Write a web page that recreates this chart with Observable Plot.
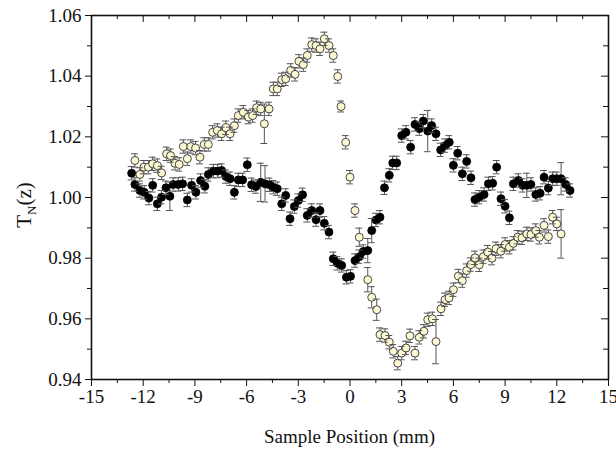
<!DOCTYPE html>
<html><head><meta charset="utf-8">
<script src="https://cdn.jsdelivr.net/npm/d3@7"></script>
<script src="https://cdn.jsdelivr.net/npm/@observablehq/plot@0.6"></script>
<style>html,body{margin:0;padding:0;background:#fff}#chart svg{display:block}</style>
</head><body><div id="chart"></div>
<script>
// ---- data ----
const whiteX = [
 -12.48,-12.19,-11.96,-11.70,-11.45,-11.18,-10.93,-10.64,-10.41,-10.16,
 -9.91,-9.67,-9.44,-9.23,-8.96,-8.71,-8.46,-8.22,-7.97,-7.70,
 -7.45,-7.20,-6.96,-6.71,-6.48,-6.19,-5.90,-5.65,-5.42,-5.18,
 -4.97,-4.70,-4.45,-4.22,-3.96,-3.73,-3.44,-3.19,-2.96,-2.71,
 -2.48,-2.22,-1.97,-1.74,-1.49,-1.22,-0.97,-0.71,-0.52,-0.25,
 0.00,0.29,0.54,1.03,1.26,1.55,1.74,2.03,2.28,2.51,
 2.77,3.00,3.25,3.48,3.77,4.02,4.29,4.51,4.78,4.99,
 5.28,5.51,5.75,6.00,6.29,6.52,6.77,7.01,7.25,7.50,
 7.74,7.99,8.24,8.47,8.75,9.00,9.25,9.48,9.73,9.98,
 10.26,10.50,10.78,10.99,11.26,11.51,11.76,12.00,12.25];
const whiteY = [
 1.0122,1.0076,1.0100,1.0100,1.0111,1.0105,1.0081,1.0144,1.0138,1.0113,
 1.0109,1.0168,1.0128,1.0168,1.0163,1.0133,1.0175,1.0175,1.0215,1.0221,
 1.0210,1.0230,1.0210,1.0237,1.0270,1.0281,1.0265,1.0270,1.0296,1.0292,
 1.0243,1.0292,1.0358,1.0358,1.0388,1.0391,1.0419,1.0406,1.0449,1.0438,
 1.0468,1.0504,1.0501,1.0490,1.0523,1.0501,1.0468,1.0399,1.0300,1.0182,
 1.0067,0.9957,0.9869,0.9729,0.9671,0.9630,0.9548,0.9545,0.9523,0.9493,
 0.9454,0.9487,0.9504,0.9544,0.9487,0.9539,0.9559,0.9597,0.9600,0.9525,
 0.9633,0.9663,0.9669,0.9696,0.9741,0.9726,0.9759,0.9779,0.9801,0.9778,
 0.9805,0.9820,0.9800,0.9831,0.9823,0.9845,0.9836,0.9849,0.9869,0.9867,
 0.9880,0.9878,0.9891,0.9869,0.9908,0.9871,0.9935,0.9913,0.9880];
const whiteErr = [
 0.0022,0.0022,0.0022,0.0022,0.0022,0.0022,0.0022,0.0022,0.0022,0.0022,
 0.0022,0.0022,0.0022,0.0022,0.0022,0.0022,0.0022,0.0022,0.0022,0.0022,
 0.0022,0.0022,0.0022,0.0022,0.0022,0.0022,0.0022,0.0022,0.0022,0.0022,
 0.0065,0.0022,0.0022,0.0022,0.0022,0.0022,0.0022,0.0022,0.0022,0.0022,
 0.0022,0.0022,0.0022,0.0022,0.0022,0.0022,0.0022,0.0022,0.0018,0.0022,
 0.0022,0.0022,0.0030,0.0040,0.0035,0.0035,0.0022,0.0022,0.0022,0.0022,
 0.0022,0.0022,0.0022,0.0022,0.0022,0.0022,0.0022,0.0022,0.0022,0.0073,
 0.0022,0.0022,0.0022,0.0022,0.0022,0.0022,0.0022,0.0022,0.0022,0.0022,
 0.0022,0.0022,0.0022,0.0022,0.0022,0.0022,0.0022,0.0022,0.0022,0.0022,
 0.0022,0.0022,0.0022,0.0022,0.0022,0.0022,0.0022,0.0022,0.0080];

const blackX = [
 -12.67,-12.48,-12.19,-11.94,-11.67,-11.45,-11.18,-10.93,-10.68,-10.45,
 -10.26,-9.97,-9.71,-9.44,-9.19,-8.94,-8.67,-8.42,-8.22,-7.93,
 -7.68,-7.45,-7.20,-6.96,-6.71,-6.48,-6.23,-5.96,-5.71,-5.46,
 -5.18,-4.93,-4.68,-4.45,-4.22,-3.96,-3.73,-3.48,-3.23,-3.00,
 -2.75,-2.48,-2.22,-1.97,-1.74,-1.49,-1.22,-0.97,-0.73,-0.48,
 -0.21,0.03,0.29,0.54,0.77,1.03,1.26,1.51,1.74,2.00,
 2.28,2.48,2.71,3.00,3.25,3.52,3.77,4.02,4.25,4.51,
 4.74,4.99,5.26,5.51,5.76,6.00,6.25,6.52,6.77,7.02,
 7.25,7.50,7.78,8.03,8.28,8.51,8.76,9.00,9.25,9.48,
 9.77,10.02,10.26,10.50,10.78,11.03,11.26,11.51,11.76,12.00,
 12.25,12.52,12.77];
const blackY = [
 1.0080,1.0043,1.0023,1.0017,0.9998,1.0040,0.9979,1.0001,1.0032,1.0004,
 1.0043,1.0043,1.0045,0.9992,1.0040,1.0017,1.0056,1.0037,1.0076,1.0087,
 1.0087,1.0089,1.0069,1.0062,1.0017,1.0058,1.0058,1.0108,1.0042,1.0036,
 1.0050,1.0045,1.0042,1.0034,1.0029,0.9979,1.0007,0.9930,0.9970,0.9990,
 1.0009,0.9941,0.9957,0.9927,0.9957,0.9915,0.9886,0.9798,0.9783,0.9776,
 0.9737,0.9740,0.9792,0.9805,0.9822,0.9825,0.9891,0.9926,0.9935,1.0032,
 1.0073,1.0114,1.0114,1.0204,1.0215,1.0166,1.0241,1.0227,1.0252,1.0219,
 1.0237,1.0210,1.0157,1.0171,1.0182,1.0106,1.0146,1.0078,1.0119,1.0065,
 0.9993,1.0001,1.0010,1.0045,1.0047,1.0100,0.9996,0.9971,0.9933,1.0045,
 1.0056,1.0040,1.0040,1.0043,1.0010,1.0014,1.0067,1.0031,1.0062,1.0062,
 1.0062,1.0043,1.0023];
const blackErr = [
 0.0022,0.0022,0.0022,0.0022,0.0022,0.0022,0.0022,0.0022,0.0022,0.0047,
 0.0022,0.0022,0.0022,0.0022,0.0022,0.0022,0.0022,0.0022,0.0022,0.0022,
 0.0022,0.0022,0.0022,0.0022,0.0022,0.0022,0.0022,0.0022,0.0022,0.0022,
 0.0063,0.0060,0.0022,0.0022,0.0022,0.0022,0.0022,0.0022,0.0022,0.0022,
 0.0022,0.0022,0.0022,0.0022,0.0022,0.0022,0.0022,0.0022,0.0022,0.0022,
 0.0022,0.0022,0.0022,0.0022,0.0022,0.0040,0.0040,0.0022,0.0022,0.0022,
 0.0022,0.0022,0.0022,0.0022,0.0022,0.0022,0.0022,0.0022,0.0022,0.0068,
 0.0022,0.0022,0.0022,0.0022,0.0022,0.0022,0.0022,0.0022,0.0022,0.0022,
 0.0022,0.0022,0.0022,0.0022,0.0022,0.0022,0.0022,0.0022,0.0022,0.0022,
 0.0022,0.0022,0.0040,0.0022,0.0022,0.0022,0.0022,0.0022,0.0022,0.0022,
 0.0053,0.0022,0.0022];

const xMajor = [-15,-12,-9,-6,-3,0,3,6,9,12,15];
const xMinor = [-13.5,-10.5,-7.5,-4.5,-1.5,1.5,4.5,7.5,10.5,13.5];
const yMajor = [0.94,0.96,0.98,1.00,1.02,1.04,1.06];
const yMinor = [0.95,0.97,0.99,1.01,1.03,1.05];
const xLabel = "Sample Position (mm)";

// ---- layout ----
const W = 616, H = 455, mL = 91, mR = 8, mT = 15, mB = 76;
const pw = W - mL - mR, ph = H - mT - mB;
const font = "'Liberation Serif','Times New Roman',serif";

const white = whiteX.map((x, i) => ({x, y: whiteY[i], e: whiteErr[i]}));
const black = blackX.map((x, i) => ({x, y: blackY[i], e: blackErr[i]}));
const cap = 0.2;

const errMarks = (data, stroke) => [
  Plot.ruleX(data, {x: "x", y1: d => d.y - d.e, y2: d => d.y + d.e, stroke, strokeWidth: 1})
];
const capMarks = (data, stroke) => [
  Plot.ruleY(data, {y: d => d.y - d.e, x1: d => d.x - cap, x2: d => d.x + cap, stroke, strokeWidth: 1}),
  Plot.ruleY(data, {y: d => d.y + d.e, x1: d => d.x - cap, x2: d => d.x + cap, stroke, strokeWidth: 1})
];

const chart = Plot.plot({
  width: W, height: H,
  marginLeft: mL, marginRight: mR, marginTop: mT, marginBottom: mB,
  style: {fontFamily: font, fontSize: "19px", color: "#111", background: "#fff"},
  x: {domain: [-15, 15]},
  y: {domain: [0.94, 1.06]},
  marks: [
    Plot.axisX(xMajor, {anchor: "bottom", tickSize: 7, tickPadding: 3, tickFormat: d => String(d), label: null, fontSize: 19}),
    Plot.axisX(xMinor, {anchor: "bottom", tickSize: 4, tickFormat: () => "", label: null}),
    Plot.axisY(yMajor, {anchor: "left", tickSize: 6, tickPadding: 4, tickFormat: d => d.toFixed(2), label: null, fontSize: 19}),
    Plot.axisY(yMinor, {anchor: "left", tickSize: 4, tickFormat: () => "", label: null}),
    Plot.tickX(xMajor, {x: d => d, insetBottom: ph - 7, stroke: "#111"}),
    Plot.tickX(xMinor, {x: d => d, insetBottom: ph - 4, stroke: "#111"}),
    Plot.tickY(yMajor, {y: d => d, insetLeft: pw - 7, stroke: "#111"}),
    Plot.tickY(yMinor, {y: d => d, insetLeft: pw - 5, stroke: "#111"}),
    ...errMarks(black, "#555"),
    Plot.dot(black, {x: "x", y: "y", r: 4, fill: "#000", stroke: "#000", strokeWidth: 0.8}),
    ...capMarks(black, "#555"),
    ...errMarks(white, "#555"),
    Plot.dot(white, {x: "x", y: "y", r: 4, fill: "#fcf8d2", stroke: "#333", strokeWidth: 0.9}),
    ...capMarks(white, "#555"),
    Plot.frame({stroke: "#111", strokeWidth: 1.6})
  ]
});

const svg = d3.select(chart);
svg.append("text")
  .attr("x", mL + pw / 2).attr("y", 443)
  .attr("text-anchor", "middle")
  .attr("font-family", font).attr("font-size", 19).attr("fill", "#111")
  .text(xLabel);
const yl = svg.append("text")
  .attr("transform", "translate(31,205) rotate(-90)")
  .attr("text-anchor", "middle")
  .attr("font-family", font).attr("font-size", 21).attr("fill", "#111");
yl.append("tspan").text("T");
yl.append("tspan").attr("dy", 5).attr("font-size", 13).text("N");
yl.append("tspan").attr("dy", -5).text("(z)");

document.getElementById("chart").appendChild(chart);
</script>
</body></html>
